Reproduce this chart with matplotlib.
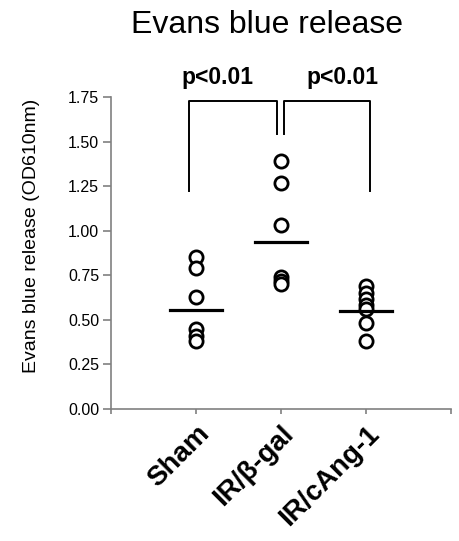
import numpy as np
import matplotlib.pyplot as plt
from matplotlib.transforms import ScaledTranslation

plt.rcParams['font.family'] = ['Liberation Sans', 'DejaVu Sans']

groups = ['Sham', 'IR/β-gal', 'IR/cAng-1']
sham = [0.85, 0.79, 0.63, 0.45, 0.41, 0.38]
ir_gal = [1.39, 1.27, 1.03, 0.74, 0.72, 0.70]
ir_cang = [0.69, 0.65, 0.615, 0.585, 0.56, 0.48, 0.38]
means = [0.555, 0.935, 0.55]
yticks = [0.0, 0.25, 0.5, 0.75, 1.0, 1.25, 1.5, 1.75]

fig = plt.figure(figsize=(4.59, 5.41), dpi=100)
ax = fig.add_axes([111/459, 132/541, 340/459, 312/541])

for i, vals in enumerate([sham, ir_gal, ir_cang]):
    x = np.full(len(vals), i + 1)
    ax.plot(x, vals, 'o', mfc='white', mec='black', ms=9.5, mew=2.0, zorder=3)
    ax.plot([i + 1 - 0.31, i + 1 + 0.31], [means[i], means[i]], color='black', lw=2.3, zorder=4)

# significance brackets
ax.plot([0.92, 0.92, 1.95, 1.95], [1.22, 1.73, 1.73, 1.54], color='black', lw=1.4, clip_on=False)
ax.plot([2.03, 2.03, 3.05, 3.05], [1.54, 1.73, 1.73, 1.22], color='black', lw=1.4, clip_on=False)
ax.text(1.25, 1.86, 'p<0.01', ha='center', va='center', fontsize=16.5, fontweight='bold')
ax.text(2.72, 1.86, 'p<0.01', ha='center', va='center', fontsize=16.5, fontweight='bold')

ax.set_xlim(0, 4)
ax.set_ylim(0, 1.75)
ax.set_yticks(yticks)
ax.set_yticklabels(['%.2f' % v for v in yticks], fontsize=11.5)
ax.set_xticks([0, 1, 2, 3, 4])
ax.set_xticklabels([''] + groups + [''], rotation=45, ha='right', va='top',
                   rotation_mode='anchor', fontsize=20, fontweight='bold')
shift = ScaledTranslation(-0.06, 0, fig.dpi_scale_trans)
for lab in ax.get_xticklabels():
    lab.set_transform(lab.get_transform() + shift)
ax.tick_params(axis='both', direction='out', color='#808080', width=1.2)
ax.tick_params(axis='y', length=5.5, pad=3)
ax.tick_params(axis='x', length=3.5, pad=5)
for s in ['top', 'right']:
    ax.spines[s].set_visible(False)
for s in ['left', 'bottom']:
    ax.spines[s].set_color('#808080')
    ax.spines[s].set_linewidth(1.2)

ax.set_ylabel('Evans blue release (OD610nm)', fontsize=14)
ax.yaxis.set_label_coords(-0.209, 0.555)
fig.text(267/459, 1 - 25/541, 'Evans blue release', ha='center', va='center', fontsize=23)

fig.savefig('out.png', dpi=100)
